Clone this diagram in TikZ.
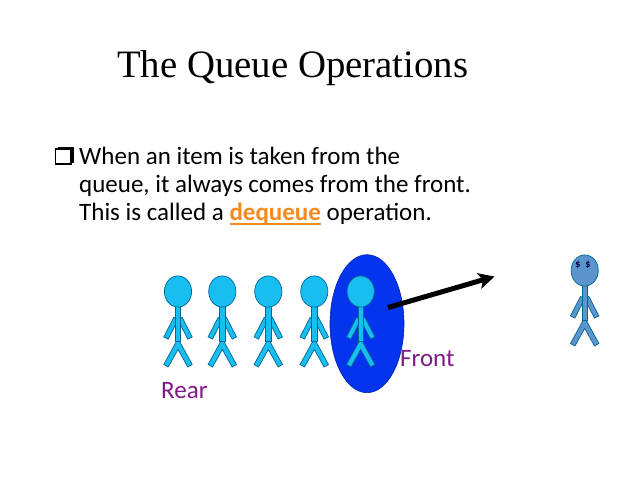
\documentclass[tikz,border=0pt]{standalone}
\usepackage{fontspec}
\setmainfont{Liberation Serif}
\newfontfamily\bodyfont{Carlito}
\usetikzlibrary{arrows.meta,shapes.geometric}
\definecolor{personcyan}{HTML}{18BEF0}
\definecolor{personblue}{HTML}{5B95CC}
\definecolor{ovalblue}{HTML}{0534EE}
\definecolor{labelpurple}{HTML}{7F1A85}
\definecolor{dqorange}{HTML}{F58A1F}
\newcommand\dqword{\setbox0=\hbox{\textbf{dequeue}}\rlap{\rule[-4.3pt]{\wd0}{1.6pt}}\box0}
\tikzset{
  x=1pt,y=-1pt,
  limb/.style={draw=black!70!blue!60!cyan,line width=0.7pt,fill=#1},
  person/.pic={
    \pgfkeysgetvalue{/tikz/personfill}{\pf}
    \path[limb=\pf] (-4.2,25.9) -- (-14.2,45.4) -- (-9.8,47.6) -- (0.2,28.1) -- cycle;
    \path[limb=\pf] (4.2,25.9) -- (14.2,45.4) -- (9.8,47.6) -- (-0.2,28.1) -- cycle;
    \path[limb=\pf] (0,47) -- (-14.2,73) -- (-9.8,75.5) -- (0,58) -- (9.8,75.5) -- (14.2,73) -- cycle;
    \path[limb=\pf] (-2.7,15) rectangle (2.7,49.5);
    \path[limb=\pf] (0,0) ellipse [x radius=13.6,y radius=15.6];
  },
  slidetext/.style={inner sep=0pt,anchor=base west,font=\bodyfont\fontsize{25}{25}\selectfont,text=black},
  sidelabel/.style={inner sep=0pt,anchor=base west,font=\bodyfont\fontsize{25}{25}\selectfont,text=labelpurple},
  dollar/.style={inner sep=0pt,font=\bodyfont\fontsize{10}{10}\selectfont\bfseries,text=black!70!blue},
}
\pgfkeyssetvalue{/tikz/personfill}{personcyan}
\begin{document}
\begin{tikzpicture}
\useasboundingbox (0,0) rectangle (638,478);
\fill[white] (0,0) rectangle (638,478);
\node[inner sep=0pt,anchor=base west,font=\fontsize{38.8}{38.8}\selectfont] (title) at (117,78) {The Queue Operations};
% bullet
\draw[line width=1.1pt,fill=white] (55.7,149) rectangle (71,164);
\draw[line width=2pt] (57.5,148.5) -- (72.5,148.5) -- (72.5,163);
\node[slidetext] (l1) at (79,164.5) {When an item is taken from the};
\node[slidetext] (l2) at (79,192.5) {queue, it always comes from the front.};
\node[slidetext] (l3) at (79,220.5) {This is called a \textcolor{dqorange}{\dqword} operation.};
% oval
\node[draw=ovalblue!70!black,fill=ovalblue,ellipse,inner sep=0pt,minimum width=74,minimum height=138,line width=0.6pt] (oval) at (367,323.7) {};
\pic at (178,291.5) {person};
\pic at (222.3,291.5) {person};
\pic at (268.3,291.5) {person};
\pic at (314.3,291.5) {person};
\pic at (360.7,291.5) {person};
\pgfkeyssetvalue{/tikz/personfill}{personblue}
\pic at (584.7,270.5) {person};
\node[dollar] (d1) at (578,264.5) {\$};
\node[dollar] (d2) at (588,265) {\$};
\coordinate (aS) at (388,307.5);
\coordinate (aE) at (494.5,276.5);
\draw[line width=5pt,-{Stealth[length=16pt,width=16pt,inset=4pt]}] (aS) -- (aE);
\node[sidelabel] (front) at (400,367) {Front};
\node[sidelabel] (rear) at (161,399) {Rear};
\end{tikzpicture}
\end{document}
